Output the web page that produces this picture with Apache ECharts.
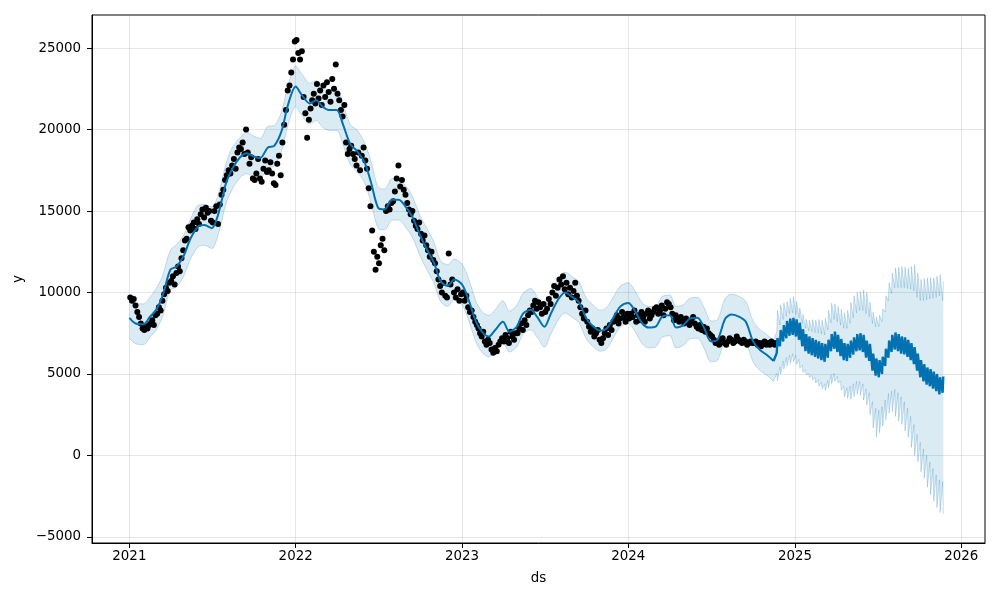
<!DOCTYPE html>
<html><head><meta charset="utf-8">
<script src="https://cdn.jsdelivr.net/npm/echarts@6/dist/echarts.min.js"></script>
<style>html,body{margin:0;padding:0;background:#fff}#c{width:1000px;height:600px}</style>
</head><body><div id="c"></div>
<script>
// ---- observed values, grouped by month (Jan 2021 .. Nov 2024) ----
const obsStartYear = 2021;
const obsEnd = '2024-11-22';
const obsByMonth = [
  [9700,9500,9600,9200,8800,8500,8100,7800],
  [7700,7900,7800,8000,8100,8300,8000,8600],
  [8700,9100,8900,9500,9900,10300,10100,10600],
  [10700,11000,10500,11200,11600,11300,12100,12600],
  [13200,13300,14000,13800,14100,14300,13900,14500],
  [14200,14800,15100,14600,15200,14900,15000,14400],
  [14300,15000,15300,14200,15400,16000,16300,16900],
  [17200,17500,17300,17800,18200,17600,18600,18900],
  [18800,19200,18500,20000,18600,17900,18300,17000],
  [16900,17300,18200,17000,16800,17600,18100,17400],
  [17500,18000,17300,16700,16600,17900,18400,17200],
  [19200,20300,21200,22400,22700,23500,24300,25400],
  [25500,24700,24300,24800,22000,21000,19500,20600],
  [21300,21800,22200,21600,22800,21900,22400,21500],
  [22700,22000,22900,22300,21700,23100,22500,24000],
  [22200,21800,21200,20800,21500,19200,18500,18800],
  [19000,18500,18200,17800,18600,17500,18400,18900],
  [18100,17600,16400,15300,13800,12500,11400,12200],
  [11800,12900,13300,12600,15000,15300,15100,15500],
  [15600,16200,17000,17800,16500,16900,16300,16000],
  [15500,15100,14800,15000,14400,14100,13900,14300],
  [13600,13200,13500,12900,12600,12200,12500,12000],
  [11800,11300,10800,10400,10000,10600,9800,9700],
  [12400,10500,10800,10000,9700,10200,9500,9900],
  [10000,9500,9800,9100,8800,8900,8500,8200],
  [8000,7800,7500,7300,7600,7000,6800,7100],
  [6900,6500,6300,6600,6400,6800,7000,7200],
  [7000,7400,7200,6900,7600,7300,7100,7500],
  [7500,7800,8100,7700,8300,8000,8600,8900],
  [8800,9200,9500,9000,9400,9100,8700,9300],
  [8800,9000,9600,9300,10000,10400,9800,10300],
  [10800,10500,11000,10200,10600,9900,10300,9700],
  [10100,10600,9800,9500,9100,8700,8400,8900],
  [8200,7900,7600,7800,7300,7500,7700,7100],
  [6900,7200,7500,7800,7400,8000,7700,8200],
  [8300,8600,8100,8400,8800,8500,8200,8700],
  [8400,8700,8500,8900,8200,8600,8300,8800],
  [8500,8200,8700,8900,8400,8600,8800,9000],
  [9100,8700,8900,9200,8600,9000,9400,9300],
  [9100,8700,8300,8600,8400,8200,8500,8300],
  [8100,8400,8200,8000,8300,8500,8100,7900],
  [7800,8000,7700,7900,7600,7800,7500,7400],
  [7300,7100,6900,7000,6800,7100,7200,6900],
  [6800,7000,7200,7100,6900,7000,7300,7100],
  [7000,6900,7100,7000,6800,6900,7000,6900],
  [6900,7000,6800,6900,6700,6900,7000,6800],
  [6900,6800,7000,6900,6800,6900]
];

// ---- in-sample forecast, 1st and 15th of each month (Jan 2021 .. Nov 2024) ----
const histYhat = [
  8450,8100,8050,8500,8950,9800,11400,11600,12300,13300,14050,14150,13950,14800,16700,17600,18300,18550,18350,18250,18900,19000,19900,21500,
  22650,22100,21600,21800,21400,21200,21200,20300,19100,18700,18000,16800,15200,15100,15700,15700,15200,14600,13500,12700,11800,10700,10400,10800,
  10500,9600,8200,7550,7300,7700,8200,7600,7900,8700,8950,8500,7900,8700,9600,10000,9700,9400,8400,7950,7650,7800,8550,9150,
  9350,8900,8100,7850,7900,8500,8600,7850,8000,8400,8450,7850,7000,7100,8400,8650,8500,8200,7000,6500,6150,5800
];
const histUpper = [
  9700,9350,9300,9700,10250,11050,12600,12950,13550,14500,15350,15400,15250,16000,17900,18900,19500,19850,19600,19450,20200,20250,21100,22700,
  23900,23400,22850,23000,22700,22400,22500,21550,20300,20000,19200,18100,16450,16350,17000,16900,16500,15850,14700,14000,13050,11950,11700,12050,
  11750,10900,9450,8800,8600,8950,9500,8850,9200,9950,10250,9750,9150,9950,10900,11250,10950,10650,9650,9250,8900,9100,9800,10400,
  10600,10150,9350,9150,9150,9750,9850,9150,9250,9650,9700,9100,8250,8350,9650,9900,9750,9450,8250,7750,7400,7050
];
const histLower = [
  7200,6850,6800,7250,7700,8550,10150,10350,11050,12050,12800,12900,12700,13550,15450,16350,17050,17300,17100,17000,17650,17750,18650,20250,
  21400,20850,20350,20550,20150,19950,19950,19050,17850,17450,16750,15550,13950,13850,14450,14450,13950,13350,12250,11450,10550,9450,9150,9550,
  9250,8350,6950,6300,6050,6450,6950,6350,6650,7450,7700,7250,6650,7450,8350,8750,8450,8150,7150,6700,6400,6550,7300,7900,
  8100,7650,6850,6600,6650,7250,7350,6600,6750,7150,7200,6600,5750,5850,7150,7400,7250,6950,5750,5250,4900,4550
];

// ---- future forecast, one week per entry from 2024-11-22: weekday level and weekend level ----
const futStart = '2024-11-22';
const futYhatBase = [6300,6700,7000,7200,7350,7400,7300,7100,6700,6400,6250,6150,6050,5950,5850,5750,6000,6400,6550,6350,6100,5850,5800,6000,6200,6400,6450,6350,6000,5800,5200,4900,4800,5000,5500,6000,6350,6500,6400,6250,6200,6050,5850,5600,5200,4800,4550,4350,4250,4100,3950,3750,3850];
const futYhatSpike = [7200,7700,8000,8250,8400,8450,8350,8150,7750,7450,7300,7200,7100,7000,6900,6850,7100,7450,7600,7400,7150,6900,6850,7050,7250,7450,7500,7400,7050,6850,6250,5950,5850,6050,6550,7050,7400,7550,7450,7300,7250,7100,6900,6650,6250,5850,5600,5400,5300,5150,5000,4800,4850];
const futUpperBase = [7600,8000,8350,8550,8700,8750,8650,8450,8100,7800,7650,7600,7550,7500,7450,7400,7700,8150,8350,8200,8000,7800,7800,8100,8450,8750,8900,8900,8700,8500,8100,7900,7900,8200,8800,9500,9950,10300,10300,10300,10300,10250,10200,10100,9700,9500,9500,9550,9600,9650,9700,9800,9500];
const futUpperSpike = [8900,9250,9350,9450,9650,9750,9450,9050,8650,8350,8300,8350,8300,8350,8300,8400,8900,9350,9300,9150,8950,8750,8900,9400,9800,10000,10050,10150,10000,9400,8800,8500,8600,9000,9800,10600,11200,11500,11550,11600,11550,11500,11600,11700,11200,10800,10850,10900,10900,10900,11000,11100,10700];
const futLowerBase = [5050,5450,5800,6000,6150,6250,6150,5900,5550,5250,5050,4900,4800,4650,4500,4400,4600,4950,5050,4850,4550,4250,4150,4250,4400,4550,4550,4400,4100,3850,3300,2900,2800,3000,3400,3800,3950,4050,3850,3600,3300,2900,2400,1900,1300,800,400,0,-400,-800,-1200,-1500,-1600];
const futLowerSpike = [4600,5000,5300,5500,5650,5750,5600,5350,5100,4950,4800,4650,4450,4250,4100,4000,4150,4400,4550,4450,4000,3600,3500,3450,3600,3750,3700,3400,3100,2500,1700,1150,1400,1800,2200,2600,2700,2400,2100,1900,1500,1100,500,0,-400,-1000,-1400,-1950,-2400,-2800,-3200,-3500,-3600];

const yTickLabels = ['-5000','0','5000','10000','15000','20000','25000'];
const xTickYears = [2021,2022,2023,2024,2025,2026];

// ---- build series data ----
const DAY = 86400000;
const obsEndT = Date.parse(obsEnd);
const obsData = [];
obsByMonth.forEach((vals, i) => {
  const y = obsStartYear + Math.floor(i / 12), m = i % 12;
  const t0 = Date.UTC(y, m, 1);
  const t1 = Math.min(Date.UTC(y, m + 1, 1), obsEndT + DAY);
  vals.forEach((v, j) => obsData.push([t0 + (j + 0.5) / vals.length * (t1 - t0), v]));
});

const histT = [];
for (let y = 2021; y <= 2024; y++) for (let m = 0; m < 12; m++) for (const d of [1, 15]) {
  if (y === 2024 && m === 11) break;
  histT.push(Date.UTC(y, m, d));
}
const histLine = histT.map((t, i) => [t, histYhat[i]]);
const histLow = histT.map((t, i) => [t, histLower[i]]);
const histDiff = histT.map((t, i) => [t, histUpper[i] - histLower[i]]);

const last = histT.length - 1;
const futT0 = Date.parse(futStart);
const futLine = [[histT[last], histYhat[last]]];
const futLow = [[histT[last], histLower[last]]];
const futDiff = [[histT[last], histUpper[last] - histLower[last]]];
futYhatBase.forEach((b, k) => {
  const t = futT0 + k * 7 * DAY, ts = t + 1.5 * DAY;
  futLine.push([t, b], [ts, futYhatSpike[k]]);
  futLow.push([t, futLowerBase[k]], [ts, futLowerSpike[k]]);
  futDiff.push([t, futUpperBase[k] - futLowerBase[k]], [ts, futUpperSpike[k] - futLowerSpike[k]]);
});

const BLUE = '#0072B2';
const FILL = 'rgba(0,114,178,0.2)';
const EDGE = 'rgba(0,114,178,0.22)';
const font = 'DejaVu Sans';

const chart = echarts.init(document.getElementById('c'), null, {renderer: 'canvas'});
chart.setOption({
  animation: false,
  useUTC: true,
  grid: {left: 92, right: 15, top: 15, bottom: 57, show: true, borderColor: '#000', borderWidth: 1, backgroundColor: 'transparent'},
  xAxis: {
    type: 'time',
    min: Date.UTC(2020, 9, 11), max: Date.UTC(2026, 1, 22),
    splitNumber: 6,
    minInterval: 365 * DAY,
    name: 'ds', nameLocation: 'middle', nameGap: 29,
    nameTextStyle: {fontFamily: font, fontSize: 13.4, color: '#000'},
    axisLine: {onZero: false, lineStyle: {color: '#000', width: 1}},
    axisTick: {show: true, length: 5, lineStyle: {color: '#000'}},
    axisLabel: {fontFamily: font, fontSize: 13.4, color: '#000', margin: 7,
      formatter: v => { const y = new Date(v).getUTCFullYear(); return xTickYears.includes(y) ? String(y) : ''; }},
    splitLine: {show: true, lineStyle: {color: 'rgba(128,128,128,0.2)', width: 1}}
  },
  yAxis: {
    type: 'value',
    min: -5370, max: 27030,
    splitNumber: 6,
    name: 'y', nameLocation: 'middle', nameGap: 65, nameRotate: 90,
    nameTextStyle: {fontFamily: font, fontSize: 13.4, color: '#000'},
    axisLine: {show: true, onZero: false, lineStyle: {color: '#000', width: 1}},
    axisTick: {show: true, length: 5, lineStyle: {color: '#000'}},
    axisLabel: {fontFamily: font, fontSize: 13.4, color: '#000', margin: 11, showMinLabel: false, showMaxLabel: false,
      formatter: v => yTickLabels.includes(String(v)) ? String(v).replace('-', '\u2212') : ''},
    splitLine: {show: true, lineStyle: {color: 'rgba(128,128,128,0.2)', width: 1}}
  },
  series: [
    {type: 'line', data: histLow, stack: 'hb', stackStrategy: 'all', smooth: 0.3, symbol: 'none', lineStyle: {color: EDGE, width: 1}, z: 1},
    {type: 'line', data: histDiff, stack: 'hb', stackStrategy: 'all', smooth: 0.3, symbol: 'none', lineStyle: {color: EDGE, width: 1}, areaStyle: {color: FILL}, z: 1},
    {type: 'line', data: futLow, stack: 'fb', stackStrategy: 'all', symbol: 'none', lineStyle: {color: EDGE, width: 1}, z: 1},
    {type: 'line', data: futDiff, stack: 'fb', stackStrategy: 'all', symbol: 'none', lineStyle: {color: EDGE, width: 1}, areaStyle: {color: FILL}, z: 1},
    {type: 'scatter', data: obsData, symbolSize: 6, itemStyle: {color: '#000', opacity: 1}, z: 2, silent: true},
    {type: 'line', data: histLine, smooth: 0.3, symbol: 'none', lineStyle: {color: BLUE, width: 2}, z: 3},
    {type: 'line', data: futLine, symbol: 'none', lineStyle: {color: BLUE, width: 2.4}, z: 3}
  ]
});
</script></body></html>
